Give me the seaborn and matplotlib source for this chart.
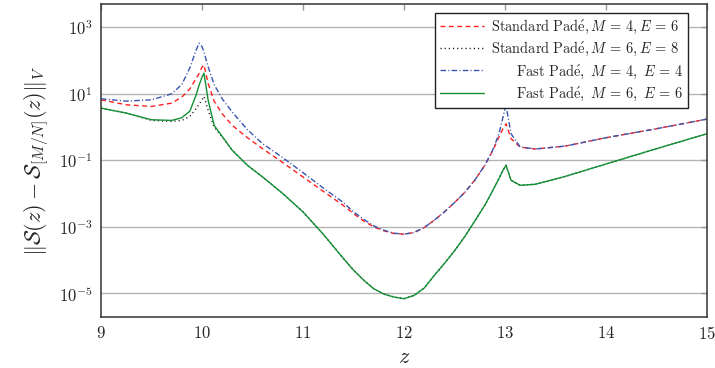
import numpy as np
import pandas as pd
import matplotlib
matplotlib.use("Agg")
import matplotlib.pyplot as plt
import matplotlib.ticker as mticker
import seaborn as sns

# z grid shared by all curves
z = [9.0, 9.25, 9.5, 9.7, 9.8, 9.88, 9.94, 9.97, 10.0, 10.02, 10.06, 10.12, 10.2,
     10.3, 10.45, 10.6, 10.8, 11.0, 11.2, 11.4, 11.5, 11.6, 11.7, 11.8, 11.9, 12.0,
     12.1, 12.2, 12.3, 12.4, 12.5, 12.6, 12.7, 12.8, 12.88, 12.94, 12.98, 13.01,
     13.06, 13.15, 13.3, 13.6, 14.0, 14.5, 15.0]

# log10 of the error norm
std_m4_e6 = [0.82, 0.67, 0.62, 0.72, 0.9, 1.15, 1.45, 1.6, 1.8, 1.87, 1.32, 0.78, 0.4,
             0.05, -0.32, -0.65, -1.07, -1.5, -1.93, -2.36, -2.6, -2.82, -3.0, -3.12, -3.2, -3.22,
             -3.17, -3.02, -2.8, -2.55, -2.27, -1.97, -1.6, -1.15, -0.7, -0.3, -0.05, 0.1,
             -0.35, -0.6, -0.66, -0.57, -0.32, -0.05, 0.24]
std_m6_e8 = [0.57, 0.42, 0.2, 0.17, 0.2, 0.32, 0.55, 0.68, 0.82, 0.92, 0.52, 0.0, -0.3,
             -0.7, -1.15, -1.5, -2.0, -2.55, -3.22, -3.95, -4.3, -4.6, -4.86, -5.02, -5.11, -5.16,
             -5.06, -4.84, -4.46, -4.1, -3.72, -3.3, -2.83, -2.35, -1.9, -1.55, -1.3, -1.15,
             -1.6, -1.75, -1.72, -1.48, -1.11, -0.65, -0.2]
fast_m4_e4 = [0.85, 0.78, 0.82, 1.0, 1.28, 1.78, 2.3, 2.52, 2.42, 2.25, 1.82, 1.28, 0.85,
              0.45, -0.08, -0.5, -0.92, -1.37, -1.83, -2.27, -2.55, -2.77, -2.97, -3.1, -3.19, -3.22,
              -3.17, -3.02, -2.8, -2.55, -2.27, -1.97, -1.6, -1.15, -0.68, -0.2, 0.3, 0.65,
              -0.2, -0.6, -0.66, -0.57, -0.32, -0.05, 0.24]
fast_m6_e6 = [0.57, 0.42, 0.22, 0.2, 0.28, 0.48, 0.95, 1.25, 1.5, 1.62, 0.82, 0.05, -0.28,
              -0.7, -1.15, -1.5, -2.0, -2.55, -3.22, -3.95, -4.3, -4.6, -4.86, -5.02, -5.11, -5.16,
              -5.06, -4.84, -4.46, -4.1, -3.72, -3.3, -2.83, -2.35, -1.9, -1.55, -1.3, -1.15,
              -1.6, -1.75, -1.72, -1.48, -1.11, -0.65, -0.2]

labels = [r'$\mathrm{Standard\ Pad\acute{e}},M\,=\,4,E\,=\,6$',
          r'$\mathrm{Standard\ Pad\acute{e}},M\,=\,6,E\,=\,8$',
          r'$\qquad\mathrm{Fast\ Pad\acute{e}},\ M\,=\,4,\ E\,=\,4$',
          r'$\qquad\mathrm{Fast\ Pad\acute{e}},\ M\,=\,6,\ E\,=\,6$']

sns.set_theme(style="white")
plt.rcParams['mathtext.fontset'] = 'cm'
plt.rcParams['font.family'] = ['cmr10', 'DejaVu Serif']
plt.rcParams['axes.unicode_minus'] = False

fig = plt.figure(figsize=(7.15, 3.68), dpi=100)
ax = fig.add_axes([101 / 715, 1 - 317 / 368, 606 / 715, 313 / 368])

series = [std_m4_e6, std_m6_e8, fast_m4_e4, fast_m6_e6]
colors = ['#ff2020', '#111111', '#3a55b0', '#139035']
styles = [(0, (3.5, 2.5)), (0, (0.8, 2.2)), (0, (4, 1.6, 0.8, 1.6)), '-']

for vals, c, ls, lab in zip(series, colors, styles, labels):
    df = pd.DataFrame({'z': z, 'err': np.power(10.0, vals)})
    sns.lineplot(data=df, x='z', y='err', ax=ax, color=c, linestyle=ls,
                 linewidth=1.0, label=lab, solid_joinstyle='round',
                 dash_joinstyle='round')

ax.set_yscale('log')
ax.set_xlim(9, 15)
ax.set_ylim(10 ** -5.71, 10 ** 3.70)
ax.yaxis.set_major_locator(mticker.FixedLocator([1e-5, 1e-3, 1e-1, 1e1, 1e3]))
ax.yaxis.set_major_formatter(mticker.LogFormatterMathtext())
ax.yaxis.set_minor_locator(mticker.NullLocator())
ax.xaxis.set_major_locator(mticker.MultipleLocator(1))
ax.xaxis.set_major_formatter(mticker.FuncFormatter(lambda v, p: r'$%d$' % round(v)))

ax.grid(axis='y', color='#b4b4b4', linewidth=1.0)
ax.grid(axis='x', visible=False)
ax.tick_params(axis='both', which='major', direction='in', length=4, width=1,
               color='#999999', top=True, right=True, labelsize=12, pad=6)
for s in ax.spines.values():
    s.set_color('#333333')
    s.set_linewidth(1.1)

ax.set_xlabel(r'$z$', fontsize=16, labelpad=4)
ax.set_ylabel(r'$\Vert\mathcal{S}(z)-\mathcal{S}_{[M/N]}(z)\Vert_V$', fontsize=16, labelpad=6)

leg = ax.legend(loc='upper right', bbox_to_anchor=((688 - 101) / 606, (317 - 13) / 313),
                borderaxespad=0, fontsize=10.4, frameon=True, fancybox=False,
                framealpha=1, edgecolor='#222222', handlelength=3.0,
                labelspacing=0.28, borderpad=0.35, handletextpad=0.5)
leg.get_frame().set_linewidth(1.0)

fig.savefig('out.png', dpi=100)
